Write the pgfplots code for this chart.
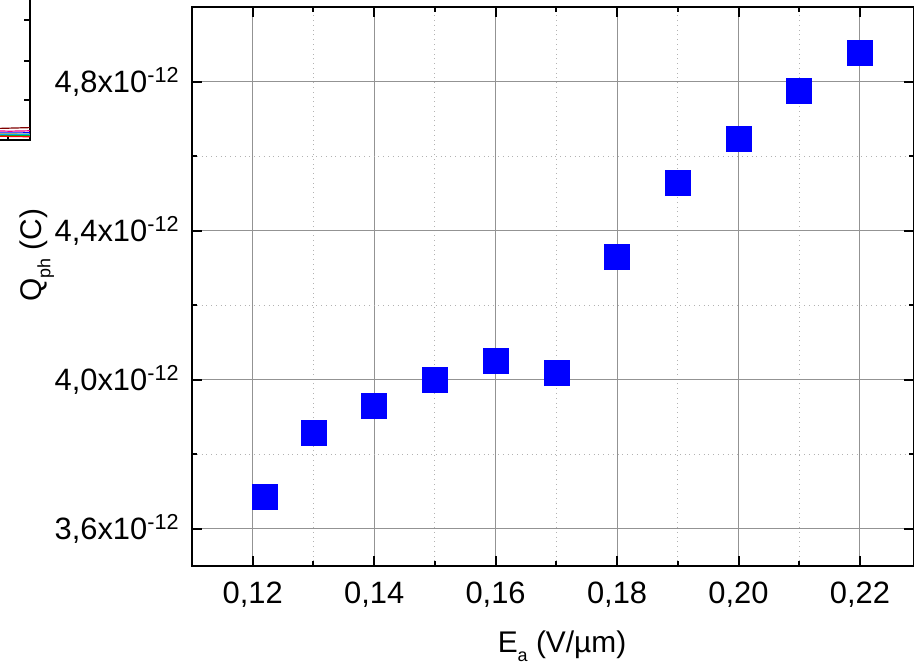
\documentclass[border=0pt]{standalone}
\usepackage{fontspec}
\setmainfont{Liberation Sans}
\usepackage{pgfplots}
\pgfplotsset{compat=1.18}
\definecolor{darkred}{RGB}{128,0,0}
\newcommand{\sub}[1]{\raisebox{-0.28em}{\fontsize{9}{10}\selectfont #1}}
\begin{document}
\begin{tikzpicture}
% cut-off fragment of a neighbouring plot (top left)
\begin{axis}[
  at={(-81bp,213bp)}, anchor=south east,
  scale only axis, width=200bp, height=150bp,
  xmin=0, xmax=200, ymin=0, ymax=150,
  xtick={189}, ytick={20,39.5,60},
  xticklabels={}, yticklabels={},
  tick align=inside, major tick length=3bp,
  tick style={black, line width=1bp},
  axis line style={line width=1bp},
]
\addplot[darkred, line width=0.6bp] coordinates {(150,5.5) (170,6.5) (185,5.8) (200,6.2)};
\addplot[magenta, line width=0.6bp] coordinates {(150,4.5) (170,4.8) (190,4.4) (200,4.6)};
\addplot[blue, line width=0.6bp] coordinates {(150,3.6) (175,3.4) (200,3.6)};
\addplot[yellow!90!black, line width=0.6bp] coordinates {(150,2.9) (175,3.1) (200,2.9)};
\addplot[green!70!black, line width=0.6bp] coordinates {(150,2.3) (180,2.5) (200,2.2)};
\addplot[red, line width=0.6bp] coordinates {(150,1.8) (165,1.2) (185,1.9) (200,1.6)};
\addplot[cyan, line width=0.6bp] coordinates {(150,2.6) (180,2.8) (200,2.7)};
\end{axis}
% main plot
\begin{axis}[
  at={(0bp,0bp)}, anchor=south west,
  scale only axis, width=361bp, height=279.5bp,
  xmin=0.11, xmax=0.2289, ymin=3.5, ymax=5.0,
  xtick={0.12,0.14,0.16,0.18,0.20,0.22},
  xticklabels={{0,12},{0,14},{0,16},{0,18},{0,20},{0,22}},
  minor xtick={0.13,0.15,0.17,0.19,0.21},
  ytick={3.6,4.0,4.4,4.8},
  yticklabels={{3,6x10\textsuperscript{-12}},{4,0x10\textsuperscript{-12}},{4,4x10\textsuperscript{-12}},{4,8x10\textsuperscript{-12}}},
  minor ytick={3.8,4.2,4.6},
  tick align=inside,
  major tick length=5bp, minor tick length=2.5bp,
  major tick style={black, line width=1bp},
  minor tick style={black, line width=1bp},
  axis line style={line width=1bp},
  grid=both,
  major grid style={gray!85, line width=0.5bp},
  minor grid style={gray!60, dotted, line width=0.5bp},
  ticklabel style={font=\fontsize{15.5}{18}\selectfont},
  xticklabel style={anchor=base, inner sep=0pt, yshift=-18.5bp},
  yticklabel style={anchor=base east, inner sep=0pt, xshift=-6bp, yshift=-5.5bp},
  xlabel={E\sub{a} (V/µm)},
  ylabel={Q\sub{ph} (C)},
  label style={font=\fontsize{15}{18}\selectfont, inner sep=0pt},
  xlabel style={at={(axis description cs:0.5125,-0.1556)}, anchor=base},
  ylabel style={at={(axis description cs:-0.2078,0.5555)}, anchor=base},
]
\addplot[only marks, mark=square*, mark size=6.25bp,
  mark options={fill=blue, draw=blue, line width=0.3bp}]
  coordinates {
  (0.122,3.687) (0.13,3.858) (0.14,3.930) (0.15,4.000) (0.16,4.051)
  (0.17,4.019) (0.18,4.330) (0.19,4.529) (0.20,4.647) (0.21,4.776) (0.22,4.877)
  };
\end{axis}
\pgfresetboundingbox
\path[use as bounding box] (-96bp,-50bp) rectangle (361bp,283bp);
\end{tikzpicture}
\end{document}
